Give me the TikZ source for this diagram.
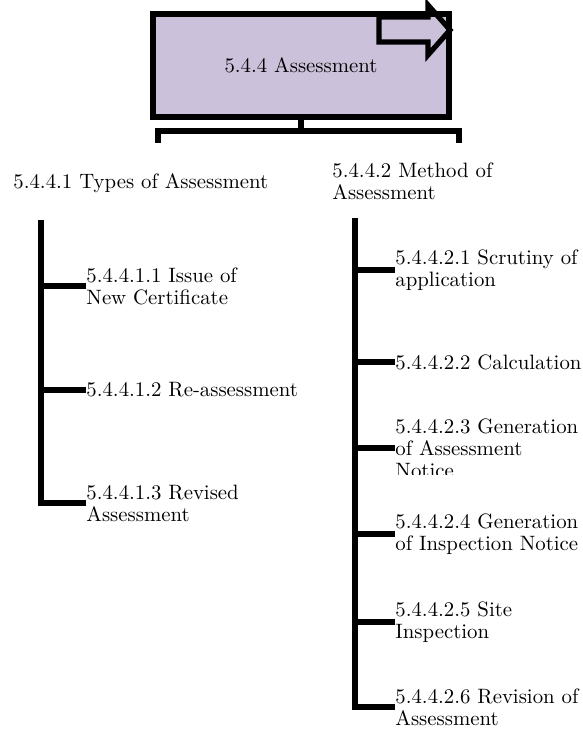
\documentclass[tikz,border=0pt]{standalone}
\usepackage{tikz}
\usetikzlibrary{positioning}

\definecolor{boxpurple}{HTML}{CCC1DA}

\begin{document}
\begin{tikzpicture}[x=0.5pt, y=-0.5pt,
block/.style={draw, line width=2.6pt, fill=boxpurple, rectangle, minimum width=148pt, minimum height=51.5pt, inner sep=0pt, font=\fontsize{10.4}{10}\selectfont},
leaf/.style={anchor=west, inner sep=0pt, align=left, font=\fontsize{10.4}{11}\selectfont},
tree/.style={draw, line width=2.6pt}]

\useasboundingbox (0,0) rectangle (582,731);

% top box with outline arrow
\node[block]		(top) at (301,65.5)		{5.4.4 Assessment};
\draw[line width=2.6pt] (379,17) -- (428,17) -- (428,5) -- (450,30) -- (428,55) -- (428,42) -- (379,42) -- cycle;

% bracket under the box
\coordinate (barl) at (158,143);
\coordinate (barr) at (459,143);
\draw[tree] (top.south) -- ++(0,14);
\draw[tree] (barl) -- ++(0,-12) -| (barr);

% second level
\node[leaf]		(types) at (13,183)		{5.4.4.1 Types of Assessment};
\node[leaf]		(method) at (332,181.5)		{5.4.4.2 Method of\\Assessment};

% types of assessment
\coordinate (ltop) at (41,220);
\node[leaf]		(t1) at (86,286)		{5.4.4.1.1 Issue of\\New Certificate};
\node[leaf]		(t2) at (86,390)		{5.4.4.1.2 Re-assessment};
\node[leaf]		(t3) at (86,503)		{5.4.4.1.3 Revised\\Assessment};

\draw[tree] (ltop) |- (t3.west);
\draw[tree] (t1.west) -- (t1.west -| ltop);
\draw[tree] (t2.west) -- (t2.west -| ltop);

% method of assessment
\coordinate (rtop) at (355,218);
\node[leaf]		(m1) at (395,270)		{5.4.4.2.1 Scrutiny of\\application};
\node[leaf]		(m2) at (395,362)		{5.4.4.2.2 Calculation};
\begin{scope}
\clip (380,400) rectangle (582,474);
\node[leaf]		(m3) at (395,448)		{5.4.4.2.3 Generation\\of Assessment\\Notice};
\end{scope}
\node[leaf]		(m4) at (395,534)		{5.4.4.2.4 Generation\\of Inspection Notice};
\node[leaf]		(m5) at (395,622)		{5.4.4.2.5 Site\\Inspection};
\node[leaf]		(m6) at (395,707)		{5.4.4.2.6 Revision of\\Assessment};

\draw[tree] (rtop) |- (m6.west);
\draw[tree] (m1.west) -- (m1.west -| rtop);
\draw[tree] (m2.west) -- (m2.west -| rtop);
\draw[tree] (m3.west) -- (m3.west -| rtop);
\draw[tree] (m4.west) -- (m4.west -| rtop);
\draw[tree] (m5.west) -- (m5.west -| rtop);

\end{tikzpicture}
\end{document}
